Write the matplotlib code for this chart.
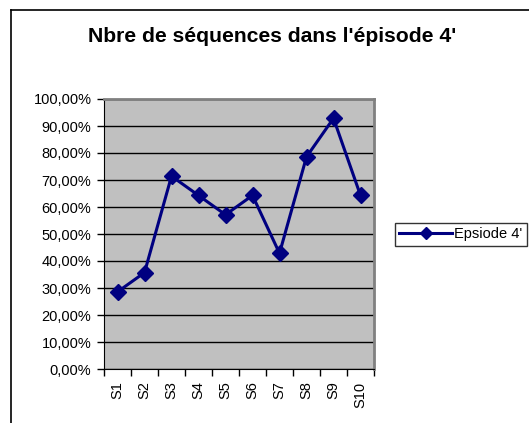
import numpy as np
import matplotlib
matplotlib.use("Agg")
import matplotlib.pyplot as plt
from matplotlib.lines import Line2D

# data (multiples of 1/14)
categories = ["S1", "S2", "S3", "S4", "S5", "S6", "S7", "S8", "S9", "S10"]
values = [28.57, 35.71, 71.43, 64.29, 57.14, 64.29, 42.86, 78.57, 92.86, 64.29]
yticks = [0, 10, 20, 30, 40, 50, 60, 70, 80, 90, 100]
ylabels = ["%d,00%%" % v for v in yticks]

plt.rcParams['font.family'] = ['Liberation Sans', 'DejaVu Sans']

fig = plt.figure(figsize=(5.29, 4.23), dpi=100)
W, H = 529, 423
ax = fig.add_axes([104 / W, 1 - 369 / H, 270 / W, 270 / H])
ax.set_facecolor("#c0c0c0")

x = np.arange(len(categories))
ax.plot(x, values, color="#000080", lw=2.2, marker="D", ms=8,
        markeredgecolor="#000080", markerfacecolor="#000080", label="Epsiode 4'",
        zorder=3)

ax.set_xlim(-0.5, len(categories) - 0.5)
ax.set_ylim(0, 100)
ax.set_yticks(yticks)
ax.set_yticklabels(ylabels, fontsize=10.5)
ax.set_xticks(np.arange(len(categories) + 1) - 0.5)
ax.set_xticklabels([])
ax.set_xticks(x, minor=True)
ax.set_xticklabels(categories, minor=True, rotation=90, fontsize=10.5)
ax.tick_params(axis="x", which="minor", length=0, pad=9)
ax.tick_params(axis="both", which="major", length=5, direction="out", width=1)
ax.tick_params(axis="y", pad=4)
ax.yaxis.grid(True, color="black", lw=1)
ax.set_axisbelow(True)

for side in ["top", "right"]:
    ax.spines[side].set_color("#808080")
    ax.spines[side].set_linewidth(2)
ax.spines["left"].set_color("black")
ax.spines["bottom"].set_color("black")

fig.text(272 / W, 1 - 37 / H, "Nbre de séquences dans l'épisode 4'",
         ha="center", va="center", fontsize=15.2, fontweight="bold")

leg = fig.legend(loc="upper left", bbox_to_anchor=(395 / W, 1 - 223 / H),
                 fontsize=10.5, frameon=True, fancybox=False, borderpad=0.3,
                 handlelength=3.6, handletextpad=0.15, borderaxespad=0,
                 markerscale=0.75)
leg.get_frame().set_edgecolor("black")
leg.get_frame().set_linewidth(1)

# outer chart border (left and top visible)
fig.add_artist(Line2D([10.5 / W, 10.5 / W], [0, 1 - 10.5 / H], color="black", lw=1.2))
fig.add_artist(Line2D([10.5 / W, 1], [1 - 10.5 / H, 1 - 10.5 / H], color="black", lw=1.2))

fig.savefig("out.png", dpi=100)
